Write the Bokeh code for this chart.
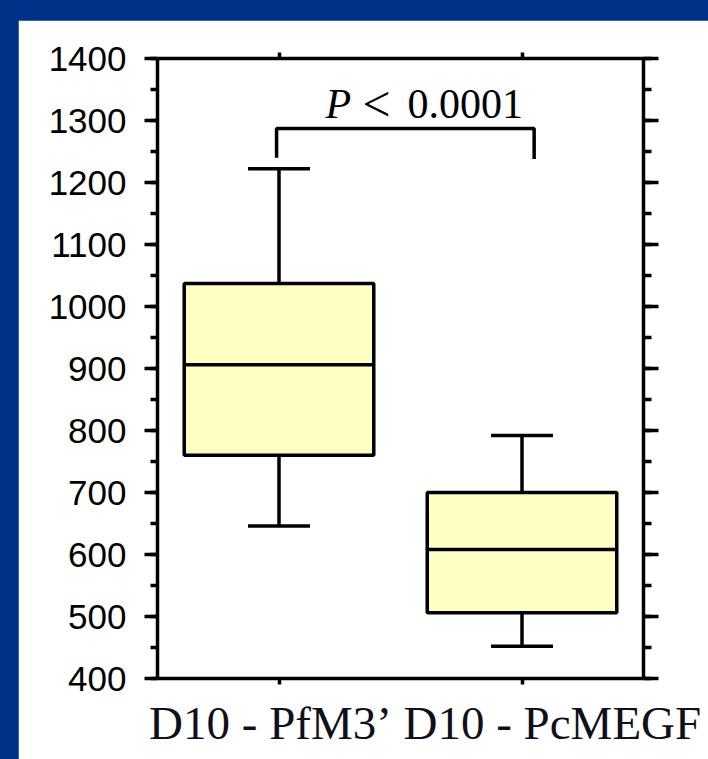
from bokeh.plotting import figure
from bokeh.models import Range1d, LinearAxis, SingleIntervalTicker, FixedTicker, Label
from bokeh.layouts import column
from bokeh.embed import file_html
from bokeh.resources import INLINE

# ---- data ----
groups = ["D10 - PfM3\u2019", "D10 - PcMEGF"]
x_pos = [1, 2]
whisker_high = [1222, 792]
q3 = [1037, 700]
median = [906, 608]
q1 = [760, 506]
whisker_low = [646, 452]
p_symbol = "P"
p_relation = "<"
p_value = "0.0001"
bracket_x = [0.99, 0.99, 2.05, 2.05]
bracket_y = [1240, 1287, 1287, 1238]
y_min, y_max, y_step = 400, 1400, 100

BLUE = "#003087"
BOX_FILL = "#FFFFC4"
LW = 3.5
box_w = 0.78
cap_w = 0.255
label_shift = [-0.035, 0.125]   # category label centre shift (x units)

p = figure(width=690, height=739,
           x_range=Range1d(0.5, 2.5), y_range=Range1d(y_min, y_max),
           output_backend="svg", toolbar_location=None,
           x_axis_location=None, y_axis_location=None,
           min_border_left=139, min_border_right=65,
           min_border_top=38, min_border_bottom=81,
           background_fill_color="white", border_fill_color="white",
           margin=(20, 0, 0, 18))
p.outline_line_color = None
p.grid.visible = False

def y_axis(labels):
    ax = LinearAxis(ticker=SingleIntervalTicker(interval=y_step, num_minor_ticks=2),
                    axis_line_width=LW, major_tick_line_width=LW, minor_tick_line_width=LW,
                    major_tick_in=0, minor_tick_in=0,
                    major_tick_out=13 if labels else 15,
                    minor_tick_out=7 if labels else 8,
                    major_label_text_font="Liberation Sans",
                    major_label_text_font_size="35px" if labels else "10px",
                    major_label_text_color="black" if labels else None,
                    major_label_standoff=18 if labels else 0)
    return ax

p.add_layout(y_axis(True), "left")
p.add_layout(y_axis(False), "right")

for side in ("above", "below"):
    ax = LinearAxis(ticker=FixedTicker(ticks=x_pos, minor_ticks=[]),
                    axis_line_width=LW, major_tick_line_width=LW,
                    major_tick_in=0, major_tick_out=6,
                    minor_tick_in=0, minor_tick_out=0,
                    major_label_text_font_size="1px", major_label_text_color=None,
                    major_label_standoff=0)
    p.add_layout(ax, side)

# category label axis
label_x = [x + s for x, s in zip(x_pos, label_shift)]
lab_ax = LinearAxis(ticker=FixedTicker(ticks=label_x, minor_ticks=[]),
                    major_label_overrides={lx: g for lx, g in zip(label_x, groups)},
                    axis_line_color=None, major_tick_line_color=None,
                    major_tick_in=0, major_tick_out=0,
                    major_label_text_font="Liberation Serif",
                    major_label_text_font_size="47px",
                    major_label_text_color="#10101c",
                    major_label_standoff=12)
p.add_layout(lab_ax, "below")

# boxes
p.vbar(x=x_pos, width=box_w, top=q3, bottom=q1, fill_color=BOX_FILL,
       line_color="black", line_width=LW)
# medians
p.segment(x0=[x - box_w / 2 for x in x_pos], x1=[x + box_w / 2 for x in x_pos],
          y0=median, y1=median, line_color="black", line_width=LW)
# whiskers
p.segment(x0=x_pos, x1=x_pos, y0=q3, y1=whisker_high, line_color="black", line_width=LW)
p.segment(x0=x_pos, x1=x_pos, y0=q1, y1=whisker_low, line_color="black", line_width=LW)
p.segment(x0=[x - cap_w / 2 for x in x_pos], x1=[x + cap_w / 2 for x in x_pos],
          y0=whisker_high, y1=whisker_high, line_color="black", line_width=LW)
p.segment(x0=[x - cap_w / 2 for x in x_pos], x1=[x + cap_w / 2 for x in x_pos],
          y0=whisker_low, y1=whisker_low, line_color="black", line_width=LW)

# significance bracket
p.line(bracket_x, bracket_y, line_color="black", line_width=LW)

mid = (x_pos[0] + x_pos[1]) / 2
p_y = 1327
p.add_layout(Label(x=mid, y=p_y, x_offset=-75, text=p_symbol, text_font="Liberation Serif",
                   text_font_style="italic", text_font_size="42px", text_color="black",
                   text_align="left", text_baseline="alphabetic"))
p.add_layout(Label(x=mid, y=p_y, x_offset=-38, text=p_relation, text_font="Liberation Serif",
                   text_font_size="50px", text_color="black",
                   text_align="left", text_baseline="alphabetic"))
p.add_layout(Label(x=mid, y=p_y, x_offset=7, text=p_value, text_font="Liberation Serif",
                   text_font_size="42px", text_color="black",
                   text_align="left", text_baseline="alphabetic"))

layout = column(p, width=708, height=759, styles={"background-color": BLUE})

open("out.html", "w").write(file_html(layout, INLINE))
